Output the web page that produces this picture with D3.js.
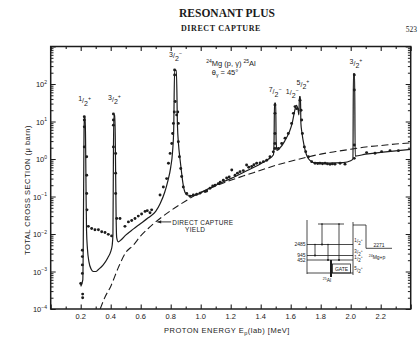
<!DOCTYPE html>
<html>
<head>
<meta charset="utf-8">
<script src="https://cdn.jsdelivr.net/npm/d3@7"></script>
<style>
  html, body { margin: 0; padding: 0; background: #ffffff; }
  svg { display: block; }
  text { fill: #1a1a1a; }
</style>
</head>
<body>
<svg id="chart" width="419" height="339"></svg>
<script>
// ---- measured total cross sections (MeV, micro-barn) ----
const measEnergy = [
  0.200, 0.213, 0.213, 0.211, 0.211, 0.211, 0.211,
  0.224, 0.224, 0.224, 0.224, 0.240, 0.240, 0.240, 0.242,
  0.251, 0.273, 0.295, 0.318, 0.340, 0.362, 0.384, 0.406,
  0.418, 0.418, 0.418, 0.418, 0.433, 0.433, 0.433,
  0.440, 0.462, 0.495, 0.518, 0.540, 0.562, 0.584, 0.606, 0.629, 0.644, 0.662, 0.673,
  0.729, 0.751, 0.773, 0.785, 0.796, 0.807, 0.813, 0.818, 0.824,
  0.826, 0.826, 0.830, 0.840, 0.847, 0.851, 0.851, 0.858, 0.867, 0.873, 0.884, 0.907,
  0.929, 0.951, 0.973, 0.995, 1.029, 1.040, 1.062, 1.080, 1.096, 1.117, 1.130, 1.151,
  1.173, 1.190, 1.207, 1.229, 1.245, 1.262, 1.284, 1.306, 1.320, 1.340, 1.355, 1.373,
  1.396, 1.418, 1.440, 1.462, 1.484,
  1.495, 1.495, 1.495, 1.495, 1.495,
  1.518, 1.540, 1.562, 1.584, 1.606, 1.618, 1.629, 1.640, 1.662, 1.669, 1.673, 1.678,
  1.691, 1.700, 1.718, 1.740, 1.762, 1.780, 1.795, 1.812, 1.829, 1.845, 1.862, 1.878,
  1.895, 1.929, 1.962,
  2.024, 2.024, 2.024, 2.024,
  2.106, 2.162, 2.206, 2.262, 2.318
];
const measSigma = [
  4.8e-4, 2.5e-4, 2.0e-4, 8.9e-4, 1.5e-3, 2.5e-3, 3.7e-3,
  13.4, 11, 7.2, 2.1, 1.15, 0.37, 0.12, 0.044,
  0.016, 0.014, 0.013, 0.013, 0.0115, 0.011, 0.0098, 0.0089,
  15.8, 11, 8, 2.1, 1.4, 0.42, 0.12,
  0.026, 0.026, 0.016, 0.021, 0.023, 0.026, 0.030, 0.034, 0.040, 0.042, 0.037, 0.044,
  0.11, 0.18, 0.30, 0.77, 1.41, 2.6, 4.8, 8.9, 18,
  236, 174, 34, 15, 18, 8.9, 2.9, 1.15, 0.56, 0.34, 0.18, 0.12,
  0.102, 0.11, 0.115, 0.123, 0.135, 0.14, 0.166, 0.19, 0.20, 0.22, 0.24, 0.27,
  0.31, 0.33, 0.51, 0.37, 0.42, 0.46, 0.49, 0.69, 0.60, 0.63, 0.70, 0.77,
  0.79, 0.85, 0.93, 1.15, 1.55,
  27.5, 16.5, 4.8, 2.6, 1.9,
  1.92, 2.6, 3.6, 4.8, 8.9, 16.5, 25, 22, 37, 20, 11, 4.8,
  2.1, 1.57, 1.15, 0.85, 0.77, 0.76, 0.77, 0.75, 0.77, 0.74, 0.72, 0.74,
  0.73, 0.77, 0.73,
  174, 69, 2.37, 1.04,
  1.48, 1.42, 1.57, 1.67, 1.67
];

// ---- fitted resonant plus direct-capture cross section ----
const fitEnergy = [
  0.200, 0.214, 0.217, 0.220, 0.222, 0.224, 0.230, 0.233, 0.236, 0.239, 0.245,
  0.255, 0.270, 0.285, 0.300, 0.320, 0.350, 0.380, 0.400, 0.410, 0.415,
  0.418, 0.421, 0.428, 0.432, 0.436, 0.440, 0.450, 0.470, 0.500, 0.550, 0.600,
  0.650, 0.700, 0.730, 0.760, 0.780, 0.800, 0.812, 0.820, 0.826, 0.838, 0.845,
  0.852, 0.862, 0.872, 0.882, 0.895, 0.910, 0.940, 0.970, 1.000, 1.050, 1.100,
  1.200, 1.300, 1.400, 1.450, 1.485, 1.489, 1.492, 1.500, 1.503, 1.508, 1.530,
  1.560, 1.590, 1.610, 1.625, 1.637, 1.648, 1.655, 1.658, 1.665, 1.668, 1.675,
  1.690, 1.705, 1.720, 1.740, 1.760, 1.850, 1.950, 2.000, 2.015, 2.018, 2.026,
  2.030, 2.100, 2.200, 2.300, 2.400
];
const fitSigma = [
  4.0e-4, 6.0e-4, 5.0e-3, 0.3, 5, 13, 13, 2, 0.1, 0.012, 4.0e-3,
  1.8e-3, 1.15e-3, 1.0e-3, 1.0e-3, 1.15e-3, 1.5e-3, 2.3e-3, 3.4e-3, 5.0e-3, 1.0e-2,
  1, 15, 15, 1, 0.03, 8.0e-3, 6.2e-3, 7.0e-3, 9.3e-3, 0.0135, 0.019,
  0.027, 0.040, 0.065, 0.13, 0.25, 0.6, 1.5, 6, 230, 230, 8,
  2.5, 1.0, 0.45, 0.22, 0.13, 0.11, 0.105, 0.11, 0.125, 0.16, 0.20,
  0.30, 0.47, 0.75, 0.98, 1.3, 3, 31, 31, 3, 1.7, 2.0,
  3.0, 5.2, 9, 18, 27, 22, 15, 46, 46, 9, 5,
  2.2, 1.3, 1.0, 0.85, 0.80, 0.78, 0.80, 0.90, 1.0, 190, 190,
  1.2, 1.35, 1.5, 1.65, 1.8
];

// ---- direct-capture yield ----
const dcEnergy = [0.33, 0.36, 0.40, 0.45, 0.50, 0.55, 0.60, 0.65, 0.70, 0.80, 0.90, 1.00,
  1.10, 1.20, 1.30, 1.40, 1.50, 1.60, 1.70, 1.80, 1.90, 2.00, 2.10, 2.20, 2.30, 2.40];
const dcSigma = [1.0e-4, 2.0e-4, 4.0e-4, 1.25e-3, 3.2e-3, 5.0e-3, 8.9e-3, 1.4e-2, 2.1e-2,
  4.2e-2, 7.6e-2, 0.13, 0.19, 0.27, 0.37, 0.50, 0.68, 0.87, 1.10, 1.35, 1.58, 1.82,
  2.09, 2.29, 2.51, 2.69];

// ---- resonance spin assignments ----
const resEnergy = [0.226, 0.425, 0.832, 1.496, 1.630, 1.662, 2.022];
const resNum    = ["1", "3", "3", "7", "1", "5", "3"];
const resDen    = ["2", "2", "2", "2", "2", "2", "2"];
const resParity = ["+", "+", "−", "−", "−", "+", "+"];
const resPeak   = [13, 15, 230, 31, 27, 46, 190];

// ---- axis ticks ----
const xMajorTicks = [0.0, 0.2, 0.4, 0.6, 0.8, 1.0, 1.2, 1.4, 1.6, 1.8, 2.0, 2.2, 2.4];
const xMinorTicks = [0.1, 0.3, 0.5, 0.7, 0.9, 1.1, 1.3, 1.5, 1.7, 1.9, 2.1, 2.3];
const xTickLabels = ["0.2", "0.4", "0.6", "0.8", "1.0", "1.2", "1.4", "1.6", "1.8", "2.0", "2.2"];
const xLabelValues = [0.2, 0.4, 0.6, 0.8, 1.0, 1.2, 1.4, 1.6, 1.8, 2.0, 2.2];
const yDecadeExp = [-4, -3, -2, -1, 0, 1, 2];

// ---- level scheme of 25Al (keV) ----
const levelLabels = ["2485", "945", "452"];
const levelSpins = [["1", "2", "+"], ["3", "2", "+"], ["1", "2", "+"], ["5", "2", "+"]];
const thresholdLabel = "2271";

const INK = "#1c1c1c";
const svg = d3.select("#chart");

// page heading
svg.append("text").attr("x", 227).attr("y", 16.5)
  .attr("text-anchor", "middle")
  .style("font-family", "'Liberation Serif', 'DejaVu Serif', serif")
  .style("font-weight", "bold").style("font-size", "11.5px")
  .text("RESONANT PLUS");
svg.append("text").attr("x", 221).attr("y", 31)
  .attr("text-anchor", "middle")
  .style("font-family", "'Liberation Serif', 'DejaVu Serif', serif")
  .style("font-weight", "bold").style("font-size", "8px")
  .style("letter-spacing", "0.6px")
  .text("DIRECT CAPTURE");
svg.append("text").attr("x", 417).attr("y", 31.5)
  .attr("text-anchor", "end")
  .style("font-family", "'Liberation Serif', 'DejaVu Serif', serif")
  .style("font-size", "7.5px")
  .text("523");

// plot region
const plotL = 50.7, plotR = 410.7, plotT = 46.5, plotB = 309;
const x = d3.scaleLinear().domain([0, 2.4]).range([plotL, plotR]);
const y = d3.scaleLog().domain([1e-4, 1e3]).range([plotB, plotT]);

const FONT = "'Liberation Sans', 'DejaVu Sans', sans-serif";

// axes: ticks point into the plot
function drawXAxis(axisFn, ypos, values, size) {
  const g = svg.append("g").attr("transform", `translate(0,${ypos})`)
    .call(axisFn(x).tickValues(values).tickSize(size).tickFormat(""));
  g.select(".domain").remove();
  g.selectAll("line").attr("stroke", INK).attr("stroke-width", 1.1);
  return g;
}
drawXAxis(d3.axisBottom, plotB, xMajorTicks, -4.5);
drawXAxis(d3.axisBottom, plotB, xMinorTicks, -2.5);
drawXAxis(d3.axisTop, plotT, xMajorTicks, -4.5);
drawXAxis(d3.axisTop, plotT, xMinorTicks, -2.5);

const decades = yDecadeExp.map(e => Math.pow(10, e)).concat([1e3]);
const minors = [];
yDecadeExp.forEach(e => { for (let k = 2; k <= 9; k++) minors.push(k * Math.pow(10, e)); });
function drawYAxis(axisFn, xpos, values, size) {
  const g = svg.append("g").attr("transform", `translate(${xpos},0)`)
    .call(axisFn(y).tickValues(values).tickSize(size).tickFormat(""));
  g.select(".domain").remove();
  g.selectAll("line").attr("stroke", INK).attr("stroke-width", 1);
  return g;
}
drawYAxis(d3.axisLeft, plotL, decades, -5);
drawYAxis(d3.axisLeft, plotL, minors, -2.8);
drawYAxis(d3.axisRight, plotR, decades, -5);
drawYAxis(d3.axisRight, plotR, minors, -2.8);

// frame
svg.append("rect").attr("x", plotL).attr("y", plotT)
  .attr("width", plotR - plotL).attr("height", plotB - plotT)
  .attr("fill", "none").attr("stroke", INK).attr("stroke-width", 1.5);

// x tick labels
svg.append("g").selectAll("text").data(xLabelValues).join("text")
  .attr("x", d => x(d)).attr("y", plotB + 9.5)
  .attr("text-anchor", "middle")
  .style("font-family", FONT).style("font-size", "7.5px")
  .text((d, i) => xTickLabels[i]);

// y tick labels (powers of ten)
yDecadeExp.forEach(e => {
  const t = svg.append("text").attr("x", 47).attr("y", y(Math.pow(10, e)) + 3)
    .attr("text-anchor", "end")
    .style("font-family", FONT).style("font-size", "7.5px");
  t.append("tspan").text("10");
  t.append("tspan").attr("dy", -3.5).style("font-size", "5px")
    .text(e < 0 ? "−" + Math.abs(e) : String(e));
});

// axis titles
svg.append("text")
  .attr("transform", `translate(30,190) rotate(-90)`)
  .attr("text-anchor", "middle")
  .style("font-family", FONT).style("font-size", "7.5px")
  .style("letter-spacing", "0.5px")
  .text("TOTAL CROSS SECTION (μ barn)");
const xt = svg.append("text").attr("x", 227).attr("y", 332.5)
  .attr("text-anchor", "middle")
  .style("font-family", FONT).style("font-size", "7.5px")
  .style("letter-spacing", "0.5px");
xt.append("tspan").text("PROTON ENERGY  E");
xt.append("tspan").attr("dy", 2).style("font-size", "5.5px").text("p");
xt.append("tspan").attr("dy", -2).text("(lab)  [MeV]");

// clip curves to the frame
svg.append("clipPath").attr("id", "plot-clip")
  .append("rect").attr("x", plotL).attr("y", plotT)
  .attr("width", plotR - plotL).attr("height", plotB - plotT);
const plot = svg.append("g").attr("clip-path", "url(#plot-clip)");

const line = d3.line().x(d => x(d[0])).y(d => y(d[1])).curve(d3.curveMonotoneX);

// direct-capture yield (dashed)
plot.append("path")
  .datum(dcEnergy.map((e, i) => [e, dcSigma[i]]))
  .attr("d", line)
  .attr("fill", "none").attr("stroke", INK).attr("stroke-width", 1.1)
  .attr("stroke-dasharray", "7,3.5");

// resonant + direct-capture fit (solid)
plot.append("path")
  .datum(fitEnergy.map((e, i) => [e, fitSigma[i]]))
  .attr("d", line)
  .attr("fill", "none").attr("stroke", INK).attr("stroke-width", 1.2)
  .attr("stroke-linejoin", "round");

// measured points
plot.append("g").selectAll("circle")
  .data(measEnergy.map((e, i) => [e, measSigma[i]]))
  .join("circle")
  .attr("cx", d => x(d[0])).attr("cy", d => y(d[1]))
  .attr("r", 1.45).attr("fill", INK);

// spin labels of the resonances
function spin(g, px, py, num, den, par, size) {
  const t = g.append("text").attr("x", px).attr("y", py)
    .attr("text-anchor", "middle")
    .style("font-family", FONT).style("font-size", size + "px");
  t.append("tspan").attr("dy", -size * 0.25).text(num);
  t.append("tspan").attr("dy", size * 0.25).text("/");
  t.append("tspan").attr("dy", size * 0.35).text(den);
  t.append("tspan").attr("dy", -size * 0.85).style("font-size", (size * 0.75) + "px").text(par);
  return t;
}
const labelShift = [[0, -14], [0, -13], [0, -12], [0, -9], [-3, -10], [3, -10], [2, -8]];
resEnergy.forEach((e, i) => {
  spin(svg, x(e) + labelShift[i][0], y(resPeak[i]) + labelShift[i][1],
    resNum[i], resDen[i], resParity[i], 7);
});

// reaction and angle
const rx = svg.append("text").attr("x", 231).attr("y", 65.5)
  .attr("text-anchor", "middle")
  .style("font-family", FONT).style("font-size", "7.5px");
rx.append("tspan").attr("dy", -3).style("font-size", "5px").text("24");
rx.append("tspan").attr("dy", 3).text("Mg (p, γ) ");
rx.append("tspan").attr("dy", -3).style("font-size", "5px").text("25");
rx.append("tspan").attr("dy", 3).text("Al");
const th = svg.append("text").attr("x", 225).attr("y", 74.5)
  .attr("text-anchor", "middle")
  .style("font-family", FONT).style("font-size", "7.5px");
th.append("tspan").text("θ");
th.append("tspan").attr("dy", 2).style("font-size", "5px").text("γ");
th.append("tspan").attr("dy", -2).text(" = 45°");

// direct capture annotation with arrow
const tipE = 0.70;
const tipY = y(dcSigma[dcEnergy.indexOf(tipE)]);
const tipX = x(tipE) + 1.5;
svg.append("line").attr("x1", tipX).attr("y1", tipY).attr("x2", tipX + 14).attr("y2", tipY)
  .attr("stroke", INK).attr("stroke-width", 0.9);
svg.append("path")
  .attr("d", `M${tipX},${tipY} l4,-1.6 l0,3.2 z`).attr("fill", INK);
svg.append("text").attr("x", tipX + 15).attr("y", tipY + 2.6)
  .style("font-family", FONT).style("font-size", "6.5px").style("letter-spacing", "0.3px")
  .text("DIRECT CAPTURE");
svg.append("text").attr("x", tipX + 38).attr("y", tipY + 9.6)
  .attr("text-anchor", "middle")
  .style("font-family", FONT).style("font-size", "6.5px").style("letter-spacing", "0.3px")
  .text("YIELD");

// level scheme inset
const inset = svg.append("g").attr("stroke", INK).attr("fill", "none").attr("stroke-width", 0.8);
const insL = 307, insR = 353;
const levelY = [244.5, 255.5, 260];
const groundY = 273;
inset.append("line").attr("x1", insL).attr("y1", 220).attr("x2", insL).attr("y2", groundY + 1);
inset.append("line").attr("x1", insR).attr("y1", 222).attr("x2", insR).attr("y2", groundY + 2);
inset.append("line").attr("x1", 318).attr("y1", 224).attr("x2", 344).attr("y2", 224);
levelY.forEach(ly => inset.append("line").attr("x1", insL).attr("y1", ly).attr("x2", insR).attr("y2", ly));
inset.append("line").attr("x1", insL).attr("y1", groundY).attr("x2", insR).attr("y2", groundY);
// gamma transitions
const gammas = [[322, 224, 244.5], [339, 224, 260], [315, 244.5, 255.5], [328, 244.5, 260]];
gammas.forEach(gm => {
  inset.append("line").attr("x1", gm[0]).attr("y1", gm[1]).attr("x2", gm[0]).attr("y2", gm[2]);
  svg.append("circle").attr("cx", gm[0]).attr("cy", gm[2]).attr("r", 1).attr("fill", INK);
  svg.append("circle").attr("cx", gm[0]).attr("cy", gm[1]).attr("r", 0.8).attr("fill", INK);
});
inset.append("line").attr("x1", 331).attr("y1", 260).attr("x2", 331).attr("y2", 277)
  .attr("stroke-width", 2);
inset.append("rect").attr("x", 332.5).attr("y", 264).attr("width", 18).attr("height", 9);
svg.append("text").attr("x", 341.5).attr("y", 270.8).attr("text-anchor", "middle")
  .style("font-family", FONT).style("font-size", "5px").text("GATE");
// threshold
inset.append("path").attr("d", "M353,225 L366,225 L366,248.3 L392,248.3");
svg.append("text").attr("x", 379).attr("y", 246.5).attr("text-anchor", "middle")
  .style("font-family", FONT).style("font-size", "5px").text(thresholdLabel);
const mg = svg.append("text").attr("x", 377).attr("y", 258.5).attr("text-anchor", "middle")
  .style("font-family", FONT).style("font-size", "5px");
mg.append("tspan").attr("dy", -1.5).style("font-size", "3.5px").text("24");
mg.append("tspan").attr("dy", 1.5).text("Mg+p");
// level energies
levelLabels.forEach((lab, i) => {
  svg.append("text").attr("x", 305.5).attr("y", levelY[i] + 1.8).attr("text-anchor", "end")
    .style("font-family", FONT).style("font-size", "5px").text(lab);
});
// spins on the right side
const spinY = [243, 254, 260.5, 271.5];
levelSpins.forEach((s, i) => spin(svg, 358.5, spinY[i], s[0], s[1], s[2], 4.5));
const al = svg.append("text").attr("x", 327).attr("y", 281.5).attr("text-anchor", "middle")
  .style("font-family", FONT).style("font-size", "5px");
al.append("tspan").attr("dy", -1.5).style("font-size", "3.5px").text("25");
al.append("tspan").attr("dy", 1.5).text("Al");
</script>
</body>
</html>
